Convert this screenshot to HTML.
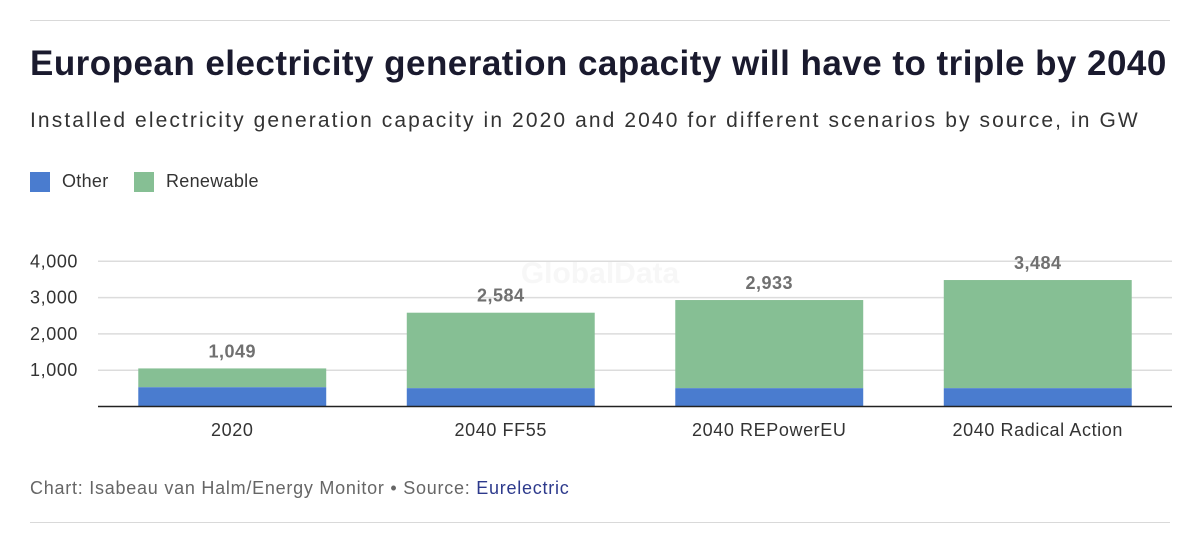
<!DOCTYPE html>
<html><head><meta charset="utf-8"><style>
body{margin:0;width:1200px;height:556px;background:#fff;font-family:"Liberation Sans",sans-serif;overflow:hidden;position:relative}
.rule{position:absolute;left:30px;width:1140px;height:1px;background:#d9d9d9}
h1{position:absolute;left:30px;top:44px;margin:0;font-size:35px;font-weight:bold;color:#1a1a2e;letter-spacing:0.47px;white-space:nowrap}
.sub{position:absolute;left:30px;top:109px;font-size:21px;color:#333;letter-spacing:2.1px;white-space:nowrap}
.legend{position:absolute;top:171px;font-size:18px;color:#333;display:flex;align-items:center;letter-spacing:0.3px}
.sw{width:20px;height:20px;margin-right:12px}
.foot{position:absolute;left:30px;top:478px;font-size:18px;color:#666;letter-spacing:0.75px;white-space:nowrap}
.foot span{color:#2d3a8c}
</style></head><body>
<div class="rule" style="top:20px"></div>
<h1>European electricity generation capacity will have to triple by 2040</h1>
<div class="sub">Installed electricity generation capacity in 2020 and 2040 for different scenarios by source, in GW</div>
<div class="legend" style="left:30px"><div class="sw" style="background:#4a7ccf"></div>Other</div>
<div class="legend" style="left:134px"><div class="sw" style="background:#86bf94"></div>Renewable</div>
<svg id="chart" style="position:absolute;left:0;top:0" width="1200" height="556"></svg>
<div class="foot">Chart: Isabeau van Halm/Energy Monitor • Source: <span>Eurelectric</span></div>
<div class="rule" style="top:522px"></div>
<script>
const categories=["2020","2040 FF55","2040 REPowerEU","2040 Radical Action"];
const otherValues=[530,505,505,505];
const totalValues=[1049,2584,2933,3484];
const totalLabels=["1,049","2,584","2,933","3,484"];
const yTicks=[1000,2000,3000,4000];
const yTickLabels=["1,000","2,000","3,000","4,000"];
const svg=document.getElementById('chart');
const NS='http://www.w3.org/2000/svg';
const x0=98,x1=1172,y0=406.5,pxPer=0.0363;
const band=(x1-x0)/categories.length;
const y=v=>y0-v*pxPer;
function mk(t,a){const e=document.createElementNS(NS,t);for(const k in a)e.setAttribute(k,a[k]);svg.appendChild(e);return e;}
const wm=mk('text',{x:600,y:283,'text-anchor':'middle','font-size':30,'font-weight':'bold',fill:'#f7f7f7','font-family':'Liberation Sans'});
wm.textContent='GlobalData';


yTicks.forEach((t,i)=>{
 const l=mk('line',{x1:x0,x2:x1,y1:y(t),y2:y(t),stroke:'#dcdcdc','stroke-width':1.5});
 
 
 const tx=mk('text',{x:30,y:y(t)+6,'font-size':18,fill:'#333','font-family':'Liberation Sans','letter-spacing':0.6});
 tx.textContent=yTickLabels[i];
 
 
});
categories.forEach((c,i)=>{
 const bw=band*0.7,bx=x0+band*i+(band-bw)/2,cx=x0+band*(i+0.5);
 const g=mk('rect',{x:bx,y:y(totalValues[i]),width:bw,height:(totalValues[i]-otherValues[i])*pxPer,fill:'#86bf94'});
 
 
 const b=mk('rect',{x:bx,y:y(otherValues[i]),width:bw,height:otherValues[i]*pxPer,fill:'#4a7ccf'});
 
 
 const v=mk('text',{x:cx,y:y(totalValues[i])-11,'text-anchor':'middle','font-size':18,'font-weight':'bold',fill:'#707070','font-family':'Liberation Sans','letter-spacing':0.5});
 v.textContent=totalLabels[i];
 
 
 const xl=mk('text',{x:cx,y:436,'text-anchor':'middle','font-size':18,fill:'#333','font-family':'Liberation Sans','letter-spacing':0.6});
 xl.textContent=c;
 
 
});
const ax=mk('line',{x1:x0,x2:x1,y1:y0,y2:y0,stroke:'#222','stroke-width':1.5});


</script>
</body></html>
